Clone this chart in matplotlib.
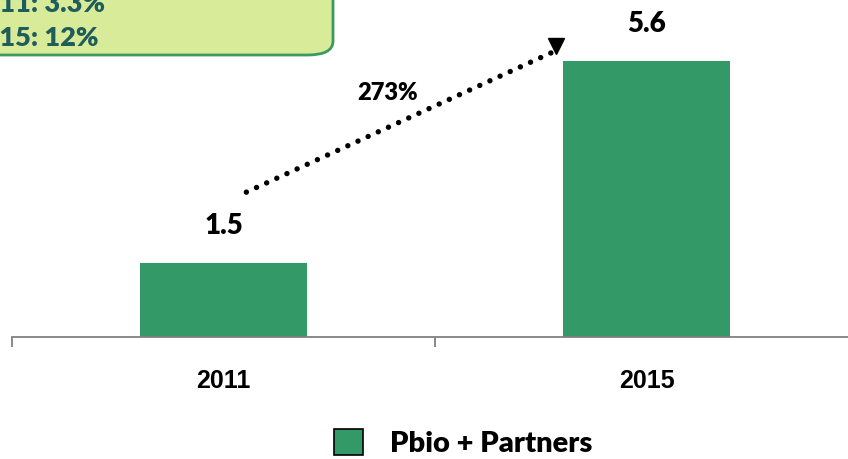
import matplotlib
matplotlib.use("Agg")
import matplotlib.pyplot as plt
from matplotlib.patches import FancyBboxPatch

categories = ["2011", "2015"]
values = [1.5, 5.6]
value_labels = ["1.5", "5.6"]
growth_label = "273%"
box_lines = ["2011: 3.3%", "2015: 12%"]
series_name = "Pbio + Partners"

W, H = 848, 459
plt.rcParams['font.family'] = ['Lato', 'DejaVu Sans']
fig = plt.figure(figsize=(W / 100, H / 100), dpi=100)
WT = "heavy"

bar_color = "#339966"
ax = fig.add_axes([12 / W, (H - 337) / H, 846 / W, 337 / H])
x = list(range(len(categories)))
ax.bar(x, values, width=0.397, color=bar_color, label=series_name)
ax.set_xlim(-0.5, 1.5)
ax.set_ylim(0, 6.84)
for s in ["top", "right", "left"]:
    ax.spines[s].set_visible(False)
ax.spines["bottom"].set_color("#808080")
ax.spines["bottom"].set_linewidth(1.3)
ax.set_yticks([])
ax.set_xticks([-0.5, 0.5, 1.5])
ax.set_xticklabels([])
ax.tick_params(axis="x", length=7, color="#808080", width=1.3, direction="out")
for xi, c in zip(x, categories):
    ax.text(xi, -0.89, c, ha="center", va="center", fontsize=18, fontweight="bold",
            family=["Liberation Sans", "DejaVu Sans"])
for xi, v, lab in zip(x, values, value_labels):
    ax.text(xi, v + 0.76, lab, ha="center", va="center", fontsize=20, fontweight=WT)

# growth arrow
x0, y0 = 0.054, 2.94
x1, y1 = 0.775, 5.77
ax.plot([x0, x1], [y0, y1], color="black", linewidth=3.9,
        linestyle=(0, (0.01, 2.05)), dash_capstyle="round", clip_on=False)
ax.plot([0.787], [5.9], marker="v", color="black", markersize=12, clip_on=False)
ax.text(0.388, 4.95, growth_label, ha="center", va="center", fontsize=17, fontweight=WT)

# legend
leg = fig.legend(loc="center", bbox_to_anchor=(463 / W, 1 - 443 / H), frameon=False,
                 prop={"size": 21, "weight": WT}, handlelength=1.0, handleheight=1.0,
                 handletextpad=0.9)
for p in leg.get_patches():
    p.set_edgecolor("black")
    p.set_linewidth(1.2)

# top-left info box (partially outside the figure, as in the reference)
box = FancyBboxPatch((-60 / W, 1 - 55 / H), 393 / W, 120 / H,
                     boxstyle="round,pad=0,rounding_size=0.03",
                     transform=fig.transFigure, facecolor="#d8eb98",
                     edgecolor="#3a9a60", linewidth=2, clip_on=False)
fig.add_artist(box)
renderer = fig.canvas.get_renderer()
probe = fig.text(0, 0, "20", fontsize=19.5, fontweight=WT)
wpx = probe.get_window_extent(renderer).width
probe.remove()
for line, ypx in zip(box_lines, [4, 38]):
    fig.text((-wpx - 1) / W, 1 - ypx / H, line, ha="left", va="center",
             fontsize=19.5, fontweight=WT, color="#1f5c5c")

fig.savefig("out.png", dpi=100)
